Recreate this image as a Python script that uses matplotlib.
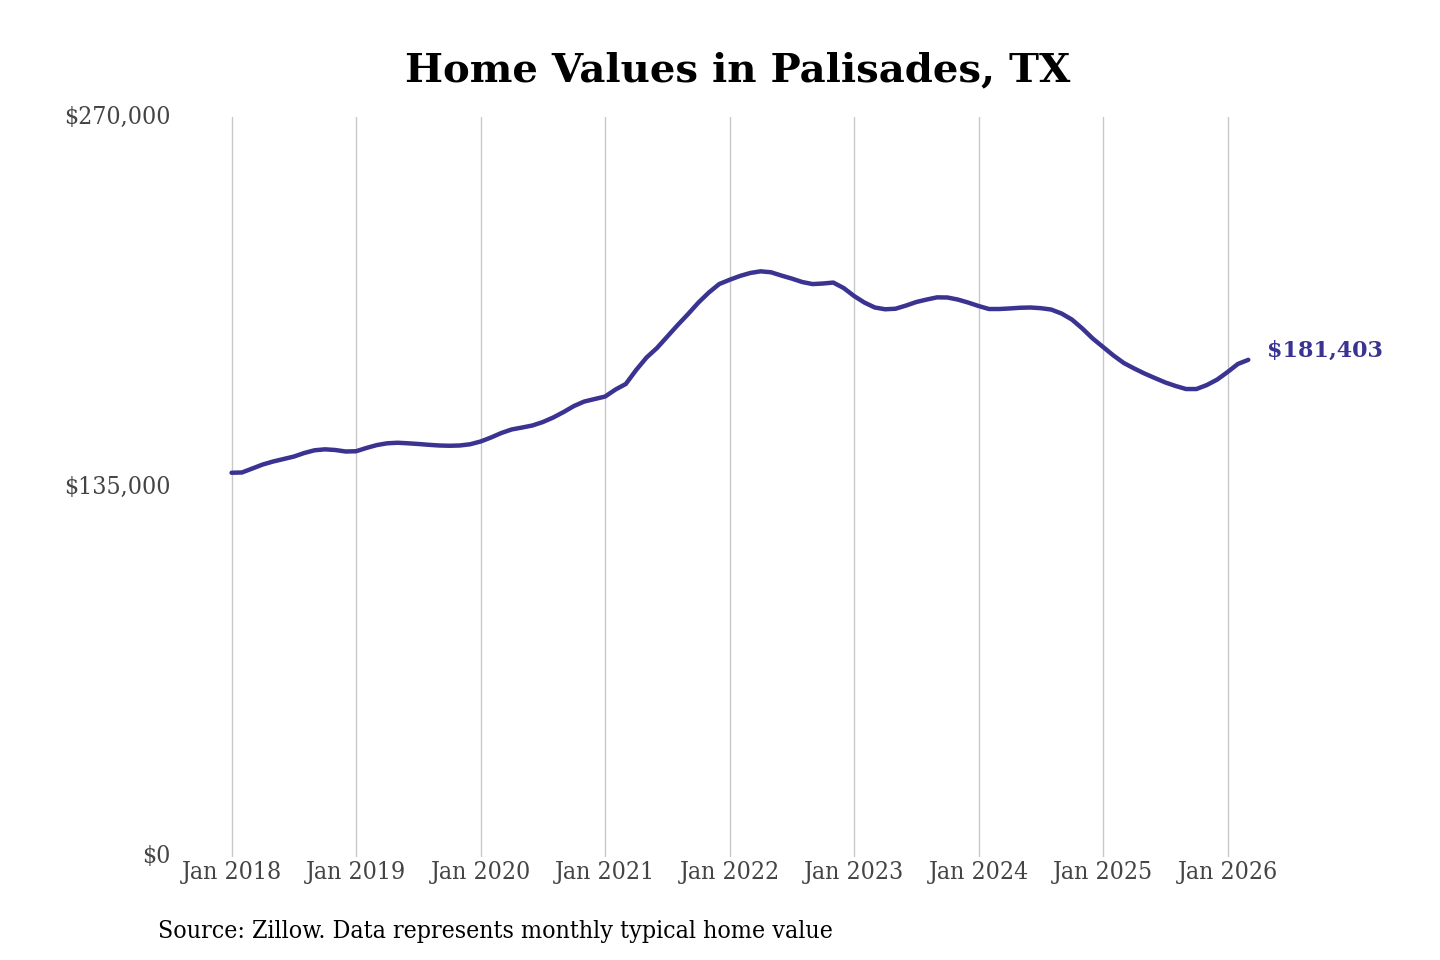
import matplotlib.pyplot as plt
from matplotlib.ticker import FuncFormatter

# monthly typical home value, Jan 2018 .. Mar 2026
values = [
    140200, 140300, 141750, 143200, 144300, 145200, 146100, 147400, 148400, 148750, 148500, 147950,   # 2018
    148050, 149250, 150300, 150950, 151150, 150950, 150700, 150400, 150150, 150050, 150150, 150600,   # 2019
    151600, 153050, 154700, 156000, 156700, 157450, 158700, 160350, 162350, 164550, 166200, 167100,   # 2020
    168000, 170550, 172600, 177700, 182250, 185700, 189900, 194100, 198100, 202300, 205950, 209050,   # 2021
    210600, 212000, 213100, 213700, 213350, 212150, 211050, 209800, 209050, 209250, 209600, 207600,   # 2022
    204700, 202300, 200500, 199850, 200050, 201200, 202500, 203400, 204200, 204150, 203400, 202300,   # 2023
    201050, 199950, 199950, 200150, 200400, 200500, 200250, 199750, 198300, 196100, 192850, 189200,   # 2024
    186100, 183000, 180250, 178250, 176400, 174750, 173150, 171850, 170750, 170750, 172200, 174200,   # 2025
    176950, 179900, 181403,                                                                          # 2026
]
months = list(range(len(values)))

tick_pos = [0, 12, 24, 36, 48, 60, 72, 84, 96]
tick_labels = ['Jan 2018', 'Jan 2019', 'Jan 2020', 'Jan 2021', 'Jan 2022',
               'Jan 2023', 'Jan 2024', 'Jan 2025', 'Jan 2026']
y_ticks = [0, 135000, 270000]

line_color = '#3a3392'
serif = 'DejaVu Serif'

fig = plt.figure(figsize=(14.4, 9.6), dpi=100)
ax = fig.add_axes([0.125, 0.1073, 0.757, 0.7708])

ax.plot(months, values, color=line_color, lw=3.2, solid_capstyle='round')

ax.set_xlim(-4.97, 100.1)
ax.set_ylim(0, 270000)
ax.set_xticks(tick_pos)
ax.set_xticklabels(tick_labels)
ax.set_yticks(y_ticks)
ax.yaxis.set_major_formatter(FuncFormatter(lambda v, p: '${:,.0f}'.format(v)))

ax.grid(axis='x', color='#c8c8c8', lw=1)
ax.set_axisbelow(True)
for s in ax.spines.values():
    s.set_visible(False)
ax.tick_params(length=0, colors='#444444', labelsize=17.8)
ax.tick_params(axis='x', pad=3)
ax.tick_params(axis='y', pad=7)
for lab in ax.get_xticklabels() + ax.get_yticklabels():
    lab.set_family(serif)
    lab.set_stretch('condensed')
for lab in ax.get_yticklabels():
    lab.set_verticalalignment('center')

# end label
ax.annotate('${:,}'.format(values[-1]), xy=(months[-1], values[-1]), xytext=(13.5, 6.5),
            textcoords='offset points', color=line_color, fontsize=16, fontweight='bold',
            family=serif, va='center', ha='left')

fig.text(0.512, 0.927, 'Home Values in Palisades, TX', ha='center', va='center',
         fontsize=29, fontweight='bold', family=serif)
fig.text(0.1097, 0.0302, 'Source: Zillow. Data represents monthly typical home value',
         ha='left', va='center', fontsize=17.8, family=serif, stretch='condensed')

fig.savefig('out.png', dpi=100, facecolor='white')
